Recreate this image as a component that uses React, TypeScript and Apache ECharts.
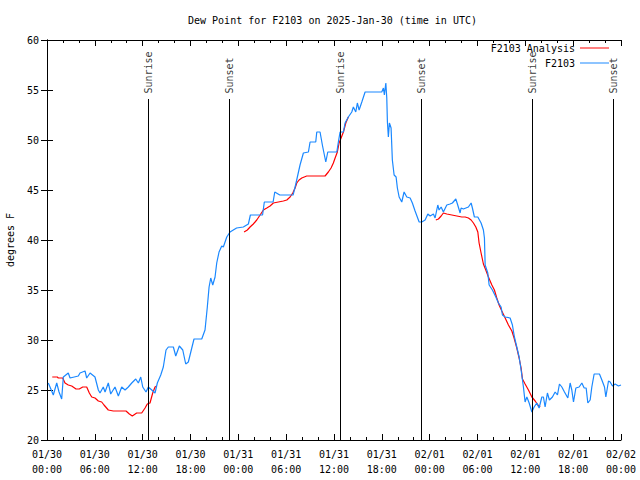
import { useEffect, useRef } from 'react';
import * as echarts from 'echarts';

const FONT = 'DejaVu Sans Mono';

const dayLabels = ['01/30', '01/31', '02/01', '02/02'];

// Hours since 2025-01-30 00:00 UTC
const f2103Hours = [0.16,0.38,0.79,1.22,1.51,1.84,2.05,2.67,2.89,3.93,
  4.14,4.77,4.98,5.40,6.02,6.44,6.65,7.06,7.28,7.69,
  7.99,8.53,8.95,9.37,9.79,10.20,10.63,11.13,11.46,11.76,
  12.01,12.42,12.71,13.14,13.55,13.84,14.27,14.59,14.93,15.22,
  15.85,16.15,16.60,17.03,17.40,17.73,18.16,18.44,19.41,19.82,
  20.11,20.33,20.54,20.79,21.08,21.29,21.58,21.92,22.12,22.55,
  22.96,23.78,24.63,25.26,25.51,27.04,27.26,28.36,28.57,29.20,
  30.87,31.18,31.46,31.74,32.16,32.79,33.00,33.71,33.84,34.25,
  34.54,34.97,35.22,36.35,36.55,36.76,37.18,37.39,37.80,38.23,
  38.43,38.73,38.93,39.15,39.49,39.90,41.99,42.20,42.32,42.50,
  42.62,42.70,42.82,42.95,43.16,43.32,43.54,43.79,43.95,44.17,
  44.50,44.79,45.13,45.55,45.83,46.17,46.68,47.01,47.43,47.77,
  48.06,48.47,48.68,49.02,49.18,49.44,49.72,50.15,50.56,50.85,
  51.28,51.48,51.82,51.94,52.23,52.86,53.20,53.36,53.61,54.04,
  54.45,54.74,54.87,54.96,55.29,55.46,55.87,56.30,56.63,56.96,
  57.13,57.47,58.09,58.38,58.63,58.93,59.22,59.47,59.76,59.97,
  60.19,60.48,60.82,61.10,61.44,61.73,62.07,62.27,62.48,62.77,
  63.02,63.40,63.74,64.03,64.28,64.58,64.91,65.33,65.62,65.83,
  66.04,66.34,66.75,67.09,67.38,67.63,67.84,68.13,68.34,68.63,
  69.30,69.60,69.93,70.10,70.43,70.64,70.93,71.27,71.68,72.0];

const f2103Temps = [25.7,25.3,24.5,25.7,24.8,24.1,26.3,26.7,26.2,26.4,
  26.7,26.9,26.2,26.7,26.3,25.0,24.7,25.3,24.8,25.7,
  24.6,25.3,24.4,25.3,25.0,25.3,25.7,26.1,25.7,26.3,
  25.3,24.8,25.3,25.0,24.7,25.7,26.5,27.3,29.0,29.3,
  29.3,28.4,29.4,29.0,27.6,27.8,29.2,30.1,30.1,31.0,
  33.3,35.3,36.2,35.5,36.3,37.7,38.8,39.4,39.3,40.3,
  40.8,41.2,41.3,41.6,42.5,42.5,43.8,43.8,44.8,44.5,
  44.5,45.5,46.5,47.5,48.7,48.8,49.8,49.8,50.8,50.8,
  49.5,47.8,48.8,48.8,49.8,50.8,50.8,51.7,52.3,52.8,
  53.3,52.8,53.7,53.0,53.8,54.8,54.8,55.2,54.5,55.7,
  54.2,51.8,50.3,51.7,51.2,48.0,46.5,46.3,45.2,44.3,
  43.8,44.8,44.3,44.2,43.7,42.9,41.8,41.8,42.0,42.6,
  42.4,42.6,42.2,43.5,43.0,43.3,42.8,43.5,43.6,43.7,
  44.1,43.6,42.7,43.2,43.1,43.3,43.7,43.2,42.3,42.3,
  41.7,41.0,40.2,37.5,36.7,35.5,35.0,34.3,33.7,33.3,
  32.5,32.3,32.2,31.5,30.3,29.3,28.3,27.0,25.3,23.8,
  24.3,23.7,22.8,23.3,23.7,23.2,24.3,24.3,23.3,24.7,
  24.0,24.3,24.8,24.5,25.6,25.3,24.8,24.2,25.7,25.0,
  23.8,25.2,25.3,25.7,25.2,25.2,23.7,24.0,25.3,26.6,
  26.6,26.0,25.3,24.3,25.9,25.8,25.4,25.6,25.4,25.5];

// null marks a gap in the analysis series
const analysisHours = [0.66,1.29,1.42,1.97,2.26,2.67,3.10,3.64,4.05,4.48,
  4.98,5.31,5.61,6.02,6.44,6.86,7.15,7.69,8.32,9.91,
  10.33,10.70,11.25,11.88,12.30,12.58,12.92,13.26,13.55,13.76, null,
  24.72,25.13,25.47,25.88,26.31,26.73,27.14,27.57,27.98,28.39,
  29.02,29.65,30.08,30.49,30.83,31.12,31.33,31.62,31.96,32.58,
  34.88,35.29,35.63,35.92,36.14,36.42,36.64,36.89,37.18,37.48,37.80, null,
  48.77,49.10,49.44,49.72,50.15,50.78,51.41,52.03,52.45,52.86,
  53.20,53.49,53.79,54.04,54.20,54.45,54.74,55.04,55.37,55.80,
  56.12,56.42,56.71,57.05,57.47,57.88,58.31,58.59,58.93,59.22,
  59.47,59.64,59.97,60.39,60.82,61.23,61.57,61.86];

const analysisTemps = [26.3,26.3,26.2,26.2,25.7,25.5,25.4,25.1,25.1,25.3,
  25.3,24.7,24.3,24.2,23.9,23.8,23.5,23.0,22.9,22.9,
  22.6,22.4,22.7,22.7,23.2,23.6,23.7,24.7,25.3,25.4, null,
  40.8,41.0,41.3,41.6,42.0,42.5,43.0,43.2,43.4,43.7,
  43.8,43.9,44.0,44.3,44.7,45.2,45.7,46.0,46.2,46.4,
  46.4,46.8,47.2,47.7,48.2,48.8,49.7,50.2,50.8,51.7,52.3, null,
  42.0,42.1,42.4,42.7,42.6,42.5,42.4,42.3,42.3,42.2,
  42.0,41.7,41.3,40.8,39.7,38.7,37.6,37.0,36.3,35.5,
  35.0,34.2,33.5,32.9,32.2,31.5,30.9,30.2,29.2,28.2,
  27.2,26.1,25.6,25.0,24.3,23.9,23.5,23.3];

const eventHours = [12.71, 22.88, 36.80, 46.95, 60.89, 71.05];
const eventNames = ['Sunrise', 'Sunset', 'Sunrise', 'Sunset', 'Sunrise', 'Sunset'];

const Y_MIN = 20;
const Y_MAX = 60;
const EVENT_LINE_TOP = 54.1;
const EVENT_LABEL_Y = 54.65;

const RED = '#ff0000';
const BLUE = '#1a88ff';

export default function App() {
  const ref = useRef<HTMLDivElement>(null);

  useEffect(() => {
    if (!ref.current) return;
    const chart = echarts.init(ref.current, null, { renderer: 'svg' });

    const analysisSegments: number[][][] = [];
    let cur: number[][] = [];
    analysisHours.forEach((h, i) => {
      const v = analysisTemps[i];
      if (h === null || v === null) {
        if (cur.length) analysisSegments.push(cur);
        cur = [];
      } else {
        cur.push([h as number, v as number]);
      }
    });
    if (cur.length) analysisSegments.push(cur);

    const blueData = f2103Hours.map((h, i) => [h, f2103Temps[i]]);

    const textStyle = { fontFamily: FONT, fontSize: 10, color: '#000' };

    const fmtX = (v: number) => {
      const d = dayLabels[Math.floor(v / 24)] ?? '';
      const hh = String(Math.round(v % 24)).padStart(2, '0');
      return `${d}\n${hh}:00`;
    };

    const series: any[] = [];
    analysisSegments.forEach((seg) => {
      series.push({
        name: 'F2103 Analysis',
        type: 'line',
        data: seg,
        symbol: 'none',
        showSymbol: false,
        lineStyle: { color: RED, width: 1.2 },
        itemStyle: { color: RED },
        z: 3,
      });
    });
    series.push({
      name: 'F2103',
      type: 'line',
      data: blueData,
      symbol: 'none',
      showSymbol: false,
      lineStyle: { color: BLUE, width: 1.2 },
      itemStyle: { color: BLUE },
      z: 4,
    });
    series.push({
      name: 'events',
      type: 'scatter',
      data: eventHours.map((h, i) => ({ value: [h, EVENT_LABEL_Y], name: eventNames[i] })),
      symbol: 'circle',
      symbolSize: 1,
      itemStyle: { color: 'rgba(0,0,0,0)' },
      silent: true,
      z: 5,
      label: {
        show: true,
        formatter: '{b}',
        position: 'inside',
        rotate: 90,
        align: 'left',
        verticalAlign: 'middle',
        ...textStyle,
      },
      markLine: {
        silent: true,
        symbol: ['none', 'none'],
        label: { show: false },
        lineStyle: { color: '#000', width: 1, type: 'solid' },
        data: eventHours.map((h) => [
          { coord: [h, Y_MIN] },
          { coord: [h, EVENT_LINE_TOP] },
        ]),
      },
    });

    const legendCommon = {
      orient: 'vertical',
      align: 'right',
      right: 26,
      itemWidth: 29,
      itemHeight: 1,
      itemGap: 5,
      icon: 'rect',
      textStyle: { ...textStyle },
      selectedMode: false,
    };

    const option: any = {
      animation: false,
      backgroundColor: '#fff',
      textStyle: { fontFamily: FONT },
      title: {
        text: 'Dew Point for F2103 on 2025-Jan-30 (time in UTC)',
        left: 183,
        top: 10,
        textStyle: { ...textStyle, fontWeight: 'normal' },
      },
      legend: [
        { ...legendCommon, top: 38, data: [{ name: 'F2103 Analysis', itemStyle: { color: RED } }] },
        { ...legendCommon, top: 53, data: [{ name: 'F2103', itemStyle: { color: BLUE } }] },
      ],
      grid: { left: 47, right: 19, top: 40, bottom: 40, containLabel: false, outerBoundsMode: 'none' },
      xAxis: [
        {
          type: 'value',
          min: 0,
          max: 72,
          interval: 6,
          position: 'bottom',
          axisLine: { show: true, lineStyle: { color: '#000', width: 1 } },
          axisTick: { show: true, inside: true, length: 6, lineStyle: { color: '#000' } },
          minorTick: { show: true, splitNumber: 3, length: 3, lineStyle: { color: '#000' } },
          splitLine: { show: false },
          axisLabel: {
            ...textStyle,
            margin: 7,
            lineHeight: 15,
            showMinLabel: true,
            showMaxLabel: true,
            formatter: fmtX,
          },
        },
        {
          type: 'value',
          min: 0,
          max: 72,
          interval: 6,
          position: 'top',
          axisLine: { show: true, lineStyle: { color: '#000', width: 1 } },
          axisTick: { show: true, inside: true, length: 6, lineStyle: { color: '#000' } },
          minorTick: { show: true, splitNumber: 3, length: 3, lineStyle: { color: '#000' } },
          splitLine: { show: false },
          axisLabel: { show: false },
        },
      ],
      yAxis: [
        {
          type: 'value',
          min: Y_MIN,
          max: Y_MAX,
          interval: 5,
          position: 'left',
          name: 'degrees F',
          nameLocation: 'middle',
          nameGap: 32,
          nameRotate: 90,
          nameTextStyle: { ...textStyle },
          axisLine: { show: true, lineStyle: { color: '#000', width: 1 } },
          axisTick: { show: true, inside: true, length: 6, lineStyle: { color: '#000' } },
          splitLine: { show: false },
          axisLabel: { ...textStyle, margin: 8 },
        },
        {
          type: 'value',
          min: Y_MIN,
          max: Y_MAX,
          interval: 5,
          position: 'right',
          axisLine: { show: true, lineStyle: { color: '#000', width: 1 } },
          axisTick: { show: true, inside: true, length: 6, lineStyle: { color: '#000' } },
          splitLine: { show: false },
          axisLabel: { show: false },
        },
      ],
      series,
    };

    chart.setOption(option);
    return () => chart.dispose();
  }, []);

  return (
    <div
      ref={ref}
      style={{ position: 'fixed', left: 0, top: 0, width: 640, height: 480, background: '#fff' }}
    />
  );
}
